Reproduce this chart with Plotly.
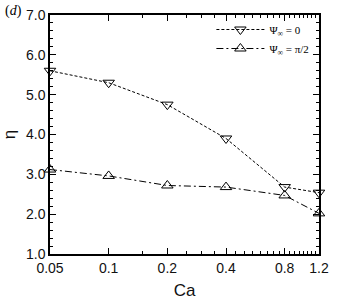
import plotly.graph_objects as go
import numpy as np

ca = [0.05, 0.1, 0.2, 0.4, 0.8, 1.2]
eta_psi0 = [5.6, 5.3, 4.75, 3.9, 2.68, 2.54]
eta_psipi2 = [3.12, 2.96, 2.72, 2.68, 2.47, 2.02]
x_ticks = [0.05, 0.1, 0.2, 0.4, 0.8, 1.2]
x_ticktext = ["0.05", "0.1", "0.2", "0.4", "0.8", "1.2"]
x_minor = [round(0.05 * k, 2) for k in range(1, 25)]
y_ticks = [1, 2, 3, 4, 5, 6, 7]
y_minor = [round(1 + 0.2 * k, 1) for k in range(31)]

fig = go.Figure()
fig.add_trace(go.Scatter(
    x=ca, y=eta_psi0, mode="lines+markers", name="Ψ<sub>∞</sub> = 0", cliponaxis=False,
    line=dict(color="black", width=1, dash="3px,2px"),
    marker=dict(symbol="triangle-down-open", size=10, color="black", line=dict(width=1, color="black")),
))
fig.add_trace(go.Scatter(
    x=ca, y=eta_psipi2, mode="lines+markers", name="Ψ<sub>∞</sub> = π/2", cliponaxis=False,
    line=dict(color="black", width=1, dash="7px,3px,2px,3px"),
    marker=dict(symbol="triangle-up-open", size=10, color="black", line=dict(width=1, color="black")),
))

axis_common = dict(
    showline=True, linecolor="black", linewidth=1.5, mirror="ticks",
    ticks="inside", ticklen=6, tickwidth=1, tickcolor="black",
    showgrid=False, zeroline=False, automargin=False,
    tickfont=dict(family="Liberation Sans, Arial", size=14, color="#111"),
)

fig.update_layout(
    width=337, height=300,
    margin=dict(l=50, r=18, t=15, b=46, autoexpand=False),
    paper_bgcolor="white", plot_bgcolor="white",
    showlegend=True,
    legend=dict(x=0.6, y=1.0, xanchor="left", yanchor="top",
                bgcolor="rgba(0,0,0,0)", borderwidth=0,
                font=dict(family="Liberation Serif, Times New Roman", size=11, color="black"),
                tracegroupgap=0, itemwidth=48),
    xaxis=dict(type="log", range=[np.log10(0.05), np.log10(1.2)],
               tickmode="array", tickvals=x_ticks, ticktext=x_ticktext,
               minor=dict(tickmode="array", tickvals=x_minor, ticks="inside", ticklen=3, tickcolor="black"),
               title=dict(text="Ca", font=dict(family="Liberation Sans, Arial", size=17, color="#111")),
               **axis_common),
    yaxis=dict(range=[1, 7], tickmode="array", tickvals=y_ticks, tickformat=".1f",
               minor=dict(tickmode="array", tickvals=y_minor, ticks="inside", ticklen=3, tickcolor="black"),
               title=dict(text="η", font=dict(family="Liberation Sans, Arial", size=17, color="#111")),
               **axis_common),
    annotations=[dict(text="(<i>d</i>)", xref="paper", yref="paper", x=-0.175, y=1.015,
                      xanchor="left", yanchor="middle", showarrow=False,
                      font=dict(family="Liberation Serif, Times New Roman", size=14, color="black"))],
)

fig.write_html("out.html", config={"displayModeBar": False},
               post_script="document.body.style.margin='0';")
